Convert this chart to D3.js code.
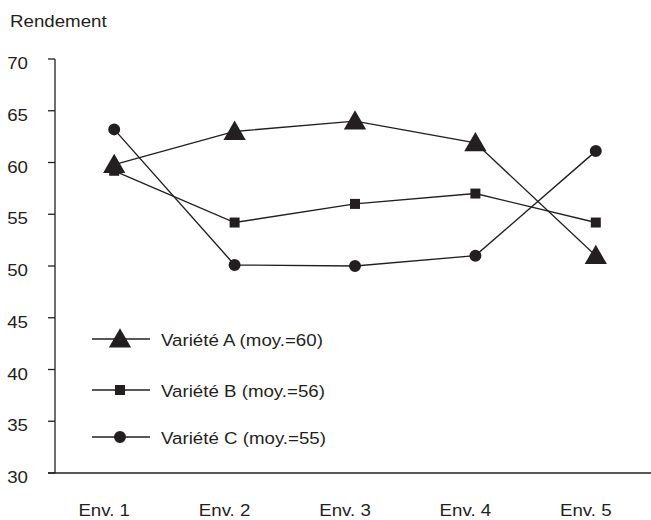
<!DOCTYPE html>
<html><head><meta charset="utf-8">
<script src="https://cdn.jsdelivr.net/npm/d3@7"></script>
<style>body{margin:0;background:#fff}text{font-family:"Liberation Sans",Arial,sans-serif;fill:#231f20}</style>
</head><body>
<svg id="c" width="651" height="520"></svg>
<script>
const categories = ["Env. 1","Env. 2","Env. 3","Env. 4","Env. 5"];
const serieA = [59.8, 63, 64, 61.9, 51];
const serieB = [59.2, 54.2, 56, 57, 54.2];
const serieC = [63.2, 50.1, 50, 51, 61.1];
const labels = ["Variété A (moy.=60)","Variété B (moy.=56)","Variété C (moy.=55)"];
const yTicks = [30,35,40,45,50,55,60,65,70];
const ink = "#231f20";

const svg = d3.select("#c");
const x = d3.scalePoint().domain(categories).range([54,656]).padding(0.5);
const y = d3.scaleLinear().domain([30,70]).range([473,59]);

function txt(tx, ty, s, anchor){
  return svg.append("text").attr("transform",`translate(${tx},${ty}) scale(1.1,1)`)
    .attr("text-anchor",anchor||"start").attr("font-size",17).text(s);
}

// axes
svg.append("line").attr("x1",55).attr("x2",55).attr("y1",y(70)).attr("y2",y(30)).attr("stroke",ink).attr("stroke-width",1.3);
svg.append("line").attr("x1",48).attr("x2",651).attr("y1",y(30)).attr("y2",y(30)).attr("stroke",ink).attr("stroke-width",1.3);
svg.selectAll(".yt").data(yTicks).enter().append("line").attr("x1",48).attr("x2",55).attr("y1",d=>y(d)).attr("y2",d=>y(d)).attr("stroke",ink).attr("stroke-width",1.3);
yTicks.forEach(d=>txt(28, y(d)+10, String(d), "end"));
categories.forEach(d=>txt(x(d)-10, 516, d, "middle"));
txt(10, 27, "Rendement");

const line = d3.line().x((d,i)=>x(categories[i])).y(d=>y(d));
const series = [
  {vals: serieA, sym: d3.symbolTriangle, size: 215, dy: 2},
  {vals: serieB, sym: d3.symbolSquare, size: 100, dy: 0},
  {vals: serieC, sym: d3.symbolCircle, size: 113, dy: 0}
];
series.forEach(s=>{
  svg.append("path").attr("d",line(s.vals)).attr("fill","none").attr("stroke",ink).attr("stroke-width",1.4);
});
[1,2,0].forEach(k=>{
  const s = series[k];
  svg.selectAll(null).data(s.vals).enter().append("path")
    .attr("d",d3.symbol().type(s.sym).size(s.size))
    .attr("transform",(d,i)=>`translate(${x(categories[i])},${y(d)+s.dy})`)
    .attr("fill",ink);
});

// legend
const ly = [339, 390, 437];
series.forEach((s,k)=>{
  svg.append("line").attr("x1",92).attr("x2",150).attr("y1",ly[k]).attr("y2",ly[k]).attr("stroke",ink).attr("stroke-width",1.3);
  svg.append("path").attr("d",d3.symbol().type(s.sym).size(s.size)).attr("transform",`translate(120,${ly[k]+s.dy})`).attr("fill",ink);
  txt(161, ly[k]+7, labels[k]);
});
</script>
</body></html>
